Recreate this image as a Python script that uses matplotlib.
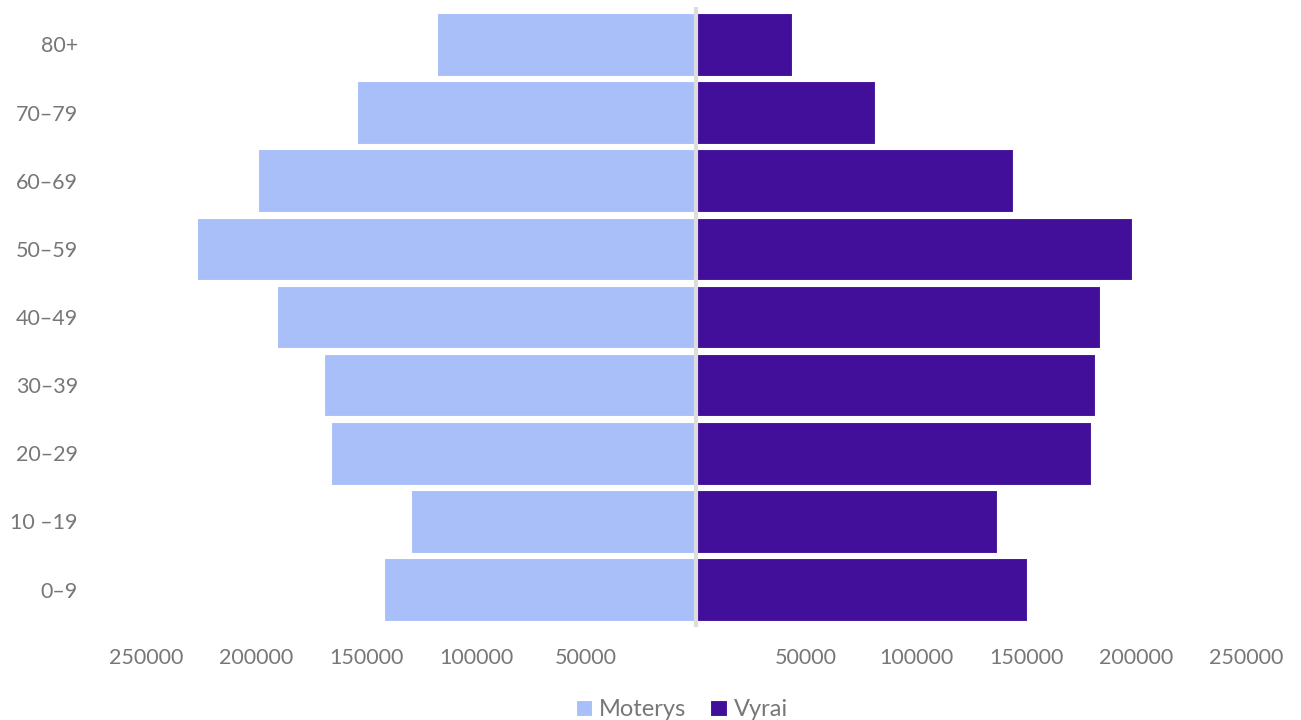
import numpy as np
import matplotlib.pyplot as plt
from matplotlib.ticker import FuncFormatter

# age groups, bottom to top
groups = ["0\u20139", "10 \u201319", "20\u201329", "30\u201339", "40\u201349",
          "50\u201359", "60\u201369", "70\u201379", "80+"]
moterys = [141800, 129500, 166000, 169000, 190500, 226800, 199000, 154000, 117700]
vyrai = [150500, 136800, 179500, 181400, 183600, 198200, 144100, 81400, 43600]
ticks = [-250000, -200000, -150000, -100000, -50000, 50000, 100000, 150000, 200000, 250000]

c_f = "#a8bff9"
c_m = "#410f99"
grey = "#777777"

plt.rcParams['font.family'] = ['Lato', 'DejaVu Sans']

fig = plt.figure(figsize=(13.01, 7.2), dpi=100)
ax = fig.add_axes([146/1301, 1-627/720, 1100/1301, 620/720])

y = np.arange(len(groups))
ax.barh(y, -np.array(moterys), height=0.92, color=c_f, edgecolor="white", lw=0.8, label="Moterys", zorder=2)
ax.barh(y, vyrai, height=0.92, color=c_m, edgecolor="white", lw=0.8, label="Vyrai", zorder=2)
ax.axvline(0, color="#dddddd", lw=3, zorder=3)

ax.set_xlim(-250000, 250000)
ax.set_ylim(-0.55, len(groups)-0.45)
ax.set_xticks(ticks)
ax.xaxis.set_major_formatter(FuncFormatter(lambda v, p: "%d" % abs(v)))
ax.set_yticks(y)
ax.set_yticklabels(groups)
ax.tick_params(length=0, labelsize=15.5, labelcolor=grey)
ax.tick_params(axis="y", pad=49)
ax.tick_params(axis="x", pad=15)
for s in ax.spines.values():
    s.set_visible(False)

fig.legend(loc="lower center", bbox_to_anchor=(0.524, -0.03), ncol=2, frameon=False,
           fontsize=17, labelcolor=grey, handlelength=0.7, handleheight=0.7,
           handletextpad=0.3, columnspacing=1.0)

plt.savefig("out.png")
